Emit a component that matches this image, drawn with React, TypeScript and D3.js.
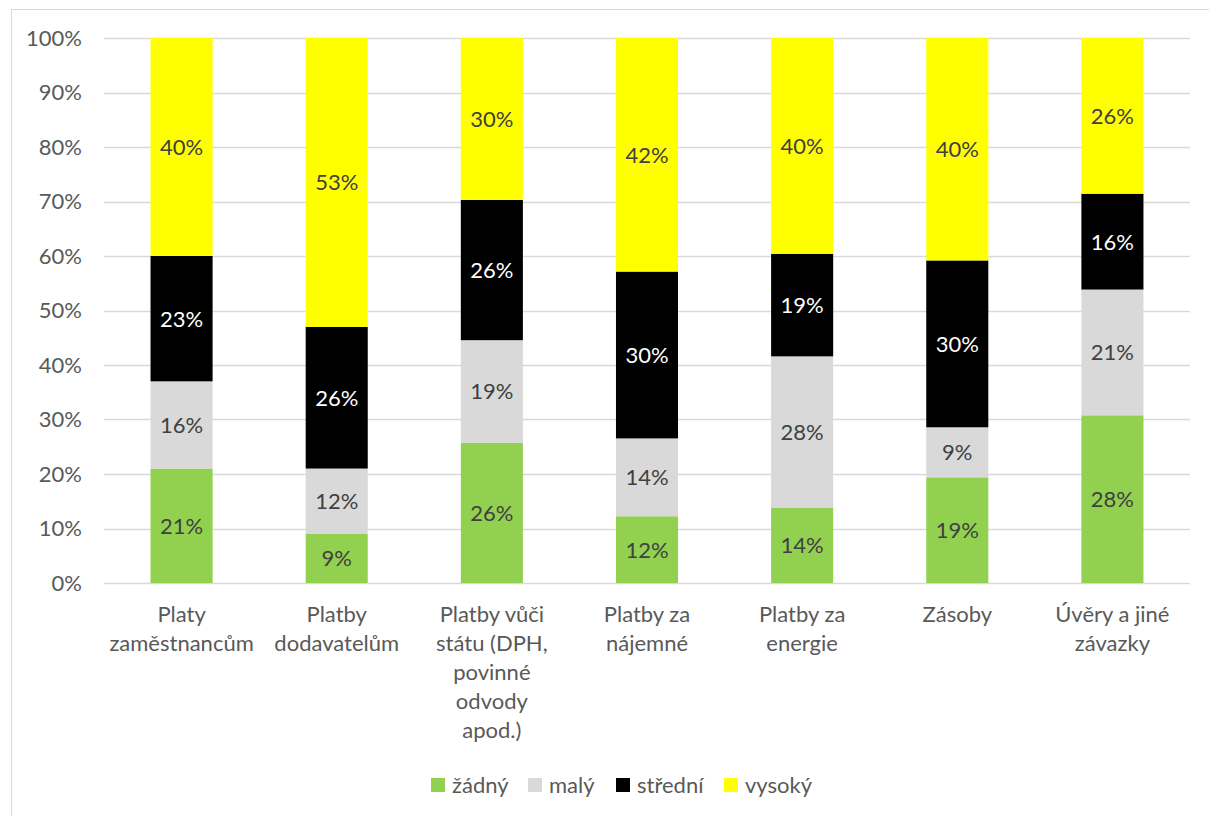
import React from "react";
import * as d3 from "d3";

// Categories (multi-line axis labels) and series values in percent
const categories = [
  "Platy zaměstnancům",
  "Platby dodavatelům",
  "Platby vůči státu (DPH, povinné odvody apod.)",
  "Platby za nájemné",
  "Platby za energie",
  "Zásoby",
  "Úvěry a jiné závazky",
];
const categoryLines = [
  ["Platy", "zaměstnancům"],
  ["Platby", "dodavatelům"],
  ["Platby vůči", "státu (DPH,", "povinné", "odvody", "apod.)"],
  ["Platby za", "nájemné"],
  ["Platby za", "energie"],
  ["Zásoby"],
  ["Úvěry a jiné", "závazky"],
];
const seriesNames = ["žádný", "malý", "střední", "vysoký"];
const zadny = [21, 9, 26, 12, 14, 19, 28];
const maly = [16, 12, 19, 14, 28, 9, 21];
const stredni = [23, 26, 26, 30, 19, 30, 16];
const vysoky = [40, 53, 30, 42, 40, 40, 26];
const seriesColors = ["#92D050", "#D9D9D9", "#000000", "#FFFF00"];
const labelColors = ["#404040", "#404040", "#FFFFFF", "#404040"];
const yTicks = [0, 0.1, 0.2, 0.3, 0.4, 0.5, 0.6, 0.7, 0.8, 0.9, 1];

const W = 1209;
const H = 816;
const FONT = "Lato, 'Open Sans', sans-serif";
const FS = 22;

export default function App() {
  const margin = { left: 104, right: 19, top: 38, bottom: 233 };
  const x = d3
    .scaleBand<string>()
    .domain(categories)
    .range([margin.left, W - margin.right])
    .paddingInner(0.6)
    .paddingOuter(0.3);
  const y = d3.scaleLinear().domain([0, 1]).range([H - margin.bottom, margin.top]);

  const rows = categories.map((c, i) => ({
    cat: c,
    [seriesNames[0]]: zadny[i],
    [seriesNames[1]]: maly[i],
    [seriesNames[2]]: stredni[i],
    [seriesNames[3]]: vysoky[i],
  }));
  const stack = d3
    .stack<any>()
    .keys(seriesNames)
    .offset(d3.stackOffsetExpand);
  const layers = stack(rows);

  const legendX = [431, 528, 616, 724];

  return (
    <svg
      width={W}
      height={H}
      style={{ position: "absolute", left: 0, top: 0, background: "#fff" }}
      fontFamily={FONT}
    >
      <rect x={11.5} y={9.5} width={W + 20} height={H + 20} fill="none" stroke="#D9D9D9" />
      {yTicks.map((t) => (
        <g key={t}>
          <line
            x1={margin.left}
            x2={W - margin.right}
            y1={Math.round(y(t)) + 0.5}
            y2={Math.round(y(t)) + 0.5}
            stroke="#D9D9D9"
            strokeWidth={1.5}
          />
          <text
            x={82}
            y={y(t)}
            dy="0.36em"
            textAnchor="end"
            fontSize={FS}
            fill="#595959"
          >
            {d3.format(".0%")(t)}
          </text>
        </g>
      ))}
      {layers.map((layer, si) => (
        <g key={layer.key}>
          {layer.map((d, ci) => {
            const x0 = x(categories[ci])!;
            const y0 = y(d[0]);
            const y1 = y(d[1]);
            const v = (d.data as any)[layer.key];
            return (
              <g key={ci}>
                <rect x={x0} y={y1} width={x.bandwidth()} height={y0 - y1} fill={seriesColors[si]} />
                <text
                  x={x0 + x.bandwidth() / 2}
                  y={(y0 + y1) / 2}
                  dy="0.36em"
                  textAnchor="middle"
                  fontSize={FS}
                  fill={labelColors[si]}
                >
                  {v}%
                </text>
              </g>
            );
          })}
        </g>
      ))}
      {categories.map((c, ci) => (
        <text
          key={c}
          x={x(c)! + x.bandwidth() / 2}
          y={622}
          textAnchor="middle"
          fontSize={FS}
          fill="#595959"
        >
          {categoryLines[ci].map((ln, li) => (
            <tspan key={li} x={x(c)! + x.bandwidth() / 2} y={622 + li * 29}>
              {ln}
            </tspan>
          ))}
        </text>
      ))}
      {seriesNames.map((s, si) => (
        <g key={s}>
          <rect x={legendX[si]} y={778} width={14} height={14} fill={seriesColors[si]} />
          <text x={legendX[si] + 21} y={785} dy="0.36em" fontSize={FS} fill="#595959">
            {s}
          </text>
        </g>
      ))}
    </svg>
  );
}
